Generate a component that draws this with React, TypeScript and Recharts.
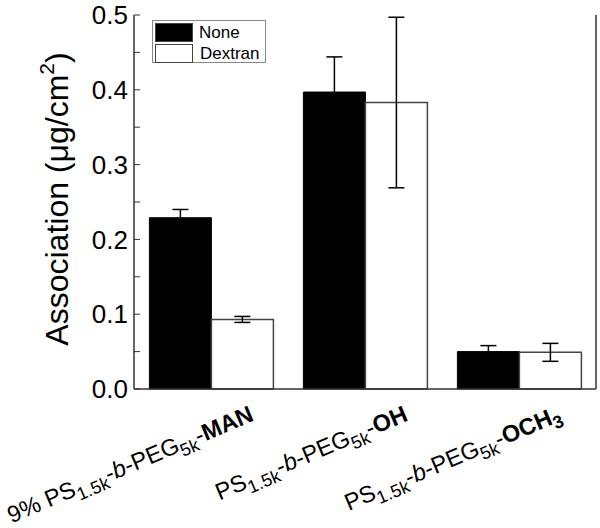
import { Bar, BarChart, ErrorBar, Label, Legend, XAxis, YAxis } from "recharts";

const font = "'Liberation Sans', Arial, Helvetica, sans-serif";

const categories = ["MAN", "OH", "OCH3"];
const none = [0.229, 0.397, 0.05];
const noneErr = [0.011, 0.047, 0.008];
const dextran = [0.093, 0.383, 0.049];
const dextranErr = [0.004, 0.114, 0.012];
const yTicks = [0, 0.05, 0.1, 0.15, 0.2, 0.25, 0.3, 0.35, 0.4, 0.45, 0.5];
const yLabeled = ["0.0", "0.1", "0.2", "0.3", "0.4", "0.5"];

type Piece = { t: string; sub?: boolean; it?: boolean; bold?: boolean };
const stem: Piece[] = [
  { t: "PS" },
  { t: "1.5k", sub: true },
  { t: "-" },
  { t: "b", it: true },
  { t: "-PEG" },
  { t: "5k", sub: true },
  { t: "-" },
];
const tickLabels: Piece[][] = [
  [{ t: "9% " }, ...stem, { t: "MAN", bold: true }],
  [...stem, { t: "OH", bold: true }],
  [...stem, { t: "OCH", bold: true }, { t: "3", sub: true, bold: true }],
];

const data = categories.map((c, i) => ({
  name: c,
  none: none[i],
  noneErr: noneErr[i],
  dextran: dextran[i],
  dextranErr: dextranErr[i],
}));

function CategoryTick({ x, y, payload }: any) {
  const pieces = tickLabels[categories.indexOf(payload.value)] ?? [];
  let shift = 0;
  return (
    <g transform={`translate(${x + 44},${y + 31}) rotate(-23)`}>
      <text textAnchor="end" fontSize={23.5} fill="#000" fontFamily={font}>
        {pieces.map((p, i) => {
          const target = p.sub ? 6 : 0;
          const dy = target - shift;
          shift = target;
          return (
            <tspan key={i} dy={dy} fontSize={p.sub ? 18 : 23.5} fontStyle={p.it ? "italic" : undefined} fontWeight={p.bold ? "bold" : undefined}>
              {p.t}
            </tspan>
          );
        })}
      </text>
    </g>
  );
}

function YLabel({ viewBox }: any) {
  const cx = viewBox.x + 68;
  const cy = viewBox.y + viewBox.height / 2 - 3;
  return (
    <text transform={`translate(${cx},${cy}) rotate(-90)`} textAnchor="middle" fontSize={32} fontFamily={font} fill="#000">
      <tspan>Association (μg/cm</tspan>
      <tspan dy={-14} fontSize={21}>2</tspan>
      <tspan dy={14}>)</tspan>
    </text>
  );
}

function LegendBox() {
  const row = { display: "flex", alignItems: "center", height: 20, marginTop: 1 };
  const text = { fontSize: 17, fontFamily: font, color: "#000", marginLeft: 6, lineHeight: "19px" };
  return (
    <div style={{ width: 114, height: 43, boxSizing: "border-box", border: "1px solid #888", background: "#fff", padding: "0 2px" }}>
      <div style={row}>
        <div style={{ width: 38, height: 19, boxSizing: "border-box", background: "#000", border: "1px solid #444" }} />
        <span style={text}>None</span>
      </div>
      <div style={row}>
        <div style={{ width: 38, height: 19, boxSizing: "border-box", background: "#fff", border: "1px solid #444" }} />
        <span style={{ ...text, marginLeft: 7 }}>Dextran</span>
      </div>
    </div>
  );
}

const frame = "#333";

export default function App() {
  return (
    <div style={{ position: "absolute", left: 0, top: 0, background: "#fff" }}>
      <BarChart width={600} height={528} data={data} margin={{ top: 15, right: 3, bottom: 0, left: 0 }} barCategoryGap="10%" barGap={0}>
        <XAxis xAxisId="minor" type="number" domain={[0, 3]} ticks={[1, 2]} allowDataOverflow height={0} tick={false} tickSize={-5} axisLine={false} tickLine={{ stroke: frame }} />
        <XAxis dataKey="name" height={139} tick={<CategoryTick />} tickLine={false} tickSize={0} tickMargin={0} axisLine={{ stroke: frame, strokeWidth: 1.5 }} interval={0} />
        <XAxis xAxisId="top" dataKey="name" orientation="top" height={0} tick={false} tickLine={false} axisLine={{ stroke: frame, strokeWidth: 1.5 }} />
        <YAxis
          yAxisId="left"
          width={134}
          domain={[0, 0.5]}
          ticks={yTicks}
          interval={0}
          tickSize={-6}
          tickMargin={12}
          tickFormatter={(v: number) => yLabeled.find((s) => Math.abs(Number(s) - v) < 1e-6) ?? ""}
          tick={{ fill: "#000", fontSize: 26, fontFamily: font }}
          tickLine={{ stroke: frame }}
          axisLine={{ stroke: frame, strokeWidth: 1.5 }}
        >
          <Label content={<YLabel />} />
        </YAxis>
        <YAxis yAxisId="right" orientation="right" width={1} domain={[0, 0.5]} ticks={yTicks} interval={0} tickSize={-6} tick={false} tickLine={{ stroke: frame }} axisLine={{ stroke: frame, strokeWidth: 1.5 }} />
        <Legend layout="vertical" align="center" verticalAlign="middle" content={() => <LegendBox />} wrapperStyle={{ left: 152, top: 20, width: 114, height: 43 }} />
        <Bar yAxisId="left" dataKey="none" name="None" fill="#000" stroke="#000" isAnimationActive={false}>
          <ErrorBar dataKey="noneErr" width={8} stroke="#000" strokeWidth={1.5} direction="y" />
        </Bar>
        <Bar yAxisId="left" dataKey="dextran" name="Dextran" fill="#fff" stroke="#444" strokeWidth={1.5} isAnimationActive={false}>
          <ErrorBar dataKey="dextranErr" width={8} stroke="#000" strokeWidth={1.5} direction="y" />
        </Bar>
      </BarChart>
    </div>
  );
}
